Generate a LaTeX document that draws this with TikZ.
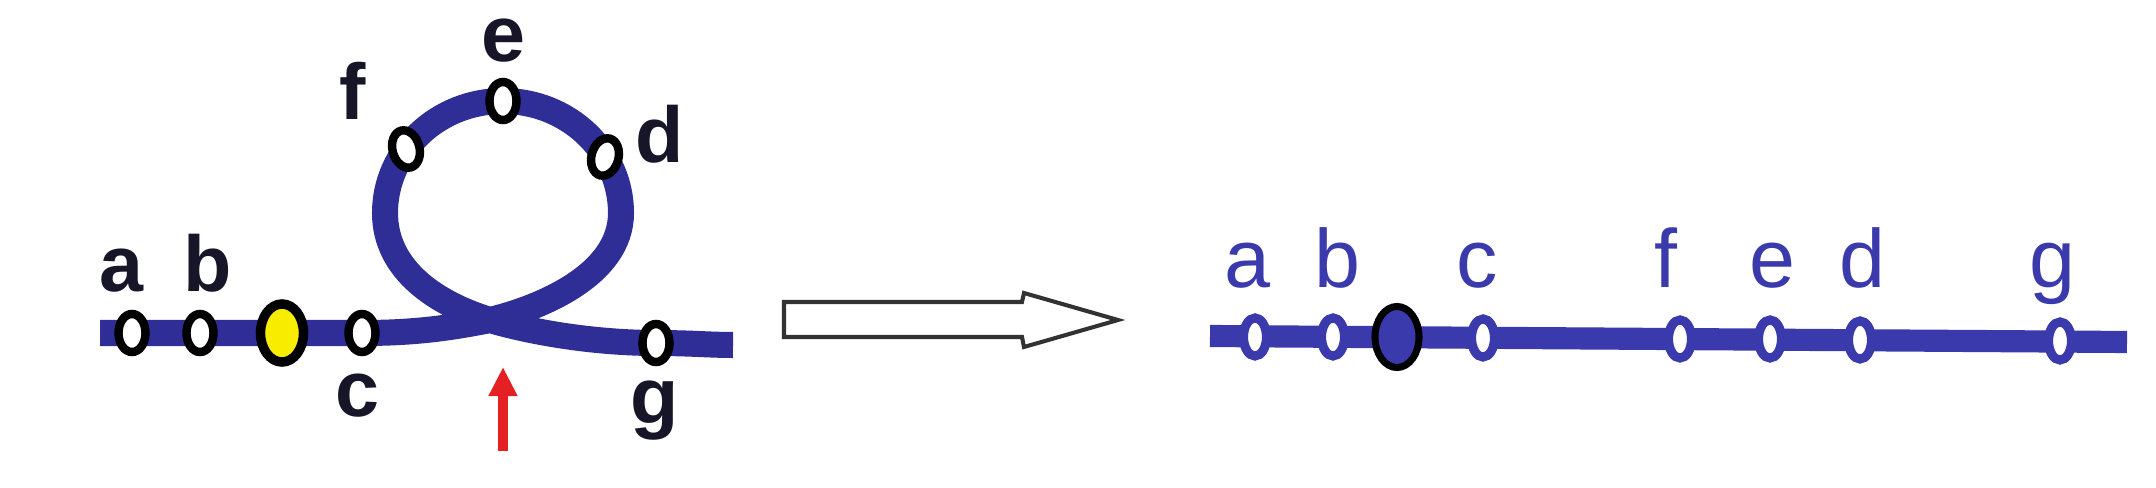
\documentclass[tikz,border=0pt]{standalone}
\usepackage{fontspec}
\setmainfont{Liberation Sans}
\usetikzlibrary{shapes.geometric,arrows.meta}
\definecolor{loopblue}{RGB}{46,46,150}
\definecolor{lineblue}{RGB}{58,58,172}
\definecolor{ink}{RGB}{22,22,40}
\definecolor{arrowred}{RGB}{228,32,36}
\definecolor{hollowgray}{RGB}{50,50,50}
\definecolor{dotyellow}{RGB}{248,236,0}
\begin{document}
\begin{tikzpicture}[x=0.01cm,y=-0.01cm,
  ring/.style={ellipse, draw=black, fill=white, line width=2.4pt, inner sep=0pt,
    minimum width=0.27cm, minimum height=0.38cm},
  bigring/.style={ellipse, draw=black, fill=dotyellow, line width=2.7pt, inner sep=0pt,
    minimum width=0.43cm, minimum height=0.58cm},
  bluering/.style={ellipse, draw=lineblue, fill=white, line width=2.6pt, inner sep=0pt,
    minimum width=0.23cm, minimum height=0.38cm},
  blackring/.style={ellipse, draw=black, fill=lineblue, line width=2pt, inner sep=0pt,
    minimum width=0.44cm, minimum height=0.61cm},
  looplbl/.style={anchor=base, inner sep=0pt, text=ink,
    font=\bfseries\fontsize{22.5}{23}\selectfont},
  linelbl/.style={anchor=base, inner sep=0pt, text=lineblue,
    font=\fontsize{23.5}{24}\selectfont},
  rope/.style={draw=loopblue, line width=7.4pt, line cap=butt, line join=round},
  straightrope/.style={draw=lineblue, line width=6.3pt, line cap=butt}
]
\path[use as bounding box, fill=white] (0,0) rectangle (2156,488);

% ---------- left: loop ----------
\coordinate (s0) at (100,333);
\coordinate (pa) at (132,333);
\coordinate (pb) at (200,333);
\coordinate (py) at (282,333);
\coordinate (pc) at (362,333);
\coordinate (xx) at (490,320);
\coordinate (rr) at (621,213);
\coordinate (tt) at (503,101);
\coordinate (ll) at (385,213);
\coordinate (pd) at (605,157);
\coordinate (pe) at (503,101);
\coordinate (pf) at (406,149);
\coordinate (pg) at (656,343);
\coordinate (s1) at (733,345);

\draw[rope] (s0) -- (pc)
  .. controls (410,333) and (445,329) .. (xx)
  .. controls (540,308) and (621,275) .. (rr)
  .. controls (621,151) and (568,101) .. (tt)
  .. controls (438,101) and (385,151) .. (ll)
  .. controls (385,270) and (437,304) .. (xx)
  .. controls (538,334) and (600,343) .. (pg)
  .. controls (690,343) and (710,345) .. (s1);

\node[ring] (na) at (pa) {};
\node[ring] (nb) at (pb) {};
\node[bigring] (ny) at (py) {};
\node[ring] (nc) at (pc) {};
\node[ring, rotate=-15] (nd) at (pd) {};
\node[ring] (ne) at (pe) {};
\node[ring, rotate=15] (nf) at (pf) {};
\node[ring] (ng) at (pg) {};

\node[looplbl] (la) at (122,292) {a};
\node[looplbl] (lb) at (208,292) {b};
\node[looplbl] (lc) at (358,417) {c};
\node[looplbl] (ld) at (660,163) {d};
\node[looplbl] (le) at (503,62) {e};
\node[looplbl] (lf) at (353,120) {f};
\node[looplbl] (lg) at (655,424) {g};

% red arrow
\coordinate (rb) at (503,451);
\coordinate (rt) at (503,367);
\draw[arrowred, line width=2.8pt, -{Triangle[width=0.27cm,length=0.29cm]}] (rb) -- (rt);

% ---------- hollow arrow ----------
\draw[hollowgray, line width=1.15pt, line join=miter, fill=white]
  (784,302) -- (1022,302) -- (1024,293) -- (1118,320) -- (1024,347)
  -- (1022,337) -- (784,337) -- cycle;

% ---------- right: straight rope ----------
\coordinate (r0) at (1210,336);
\coordinate (r1) at (2127,342);
\draw[straightrope] (r0) -- (r1);

\node[bluering] (ra) at (1255,337) {};
\node[bluering] (rbb) at (1333,337) {};
\node[blackring] (rk) at (1397,337) {};
\node[bluering] (rc) at (1483,338) {};
\node[bluering] (rf) at (1680,339) {};
\node[bluering] (re) at (1770,339) {};
\node[bluering] (rd) at (1860,340) {};
\node[bluering] (rg) at (2060,341) {};

\node[linelbl] (ta) at (1247,288) {a};
\node[linelbl] (tb) at (1337,288) {b};
\node[linelbl] (tc) at (1477,288) {c};
\node[linelbl] (tf) at (1666,288) {f};
\node[linelbl] (te) at (1772,288) {e};
\node[linelbl] (td) at (1862,288) {d};
\node[linelbl] (tg) at (2052,288) {g};
\end{tikzpicture}
\end{document}
